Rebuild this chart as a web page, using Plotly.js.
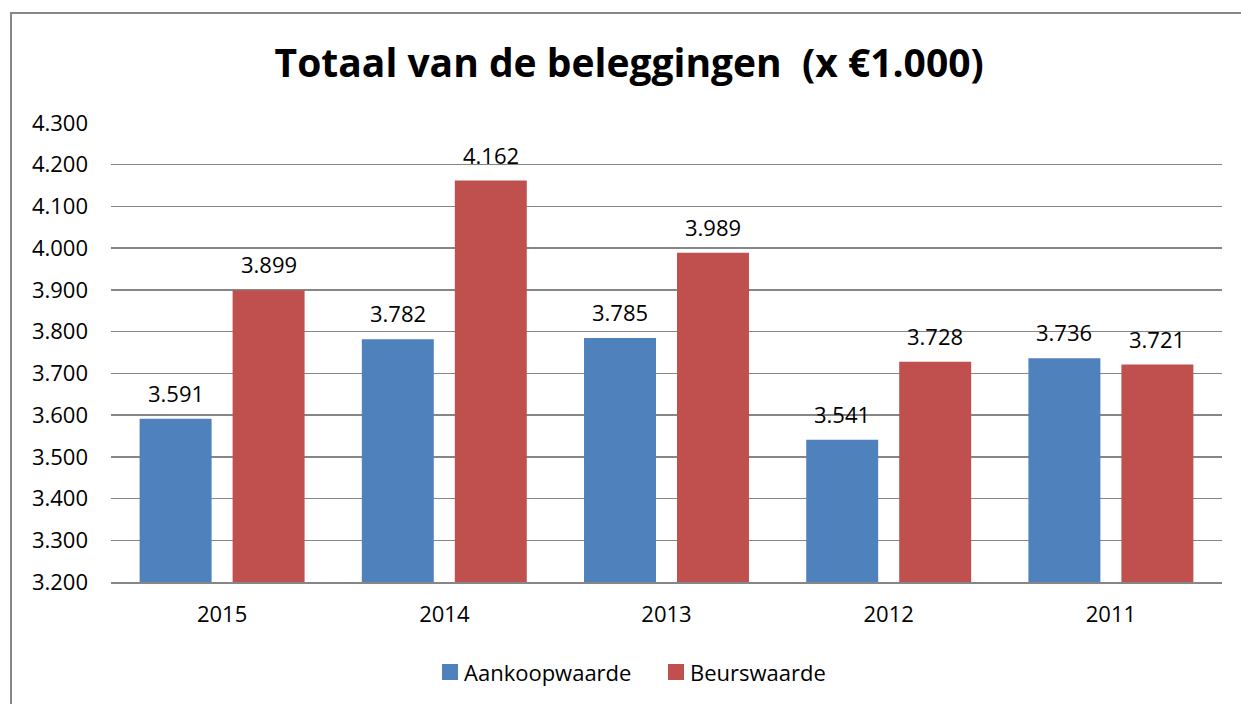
<!DOCTYPE html>
<html><head><meta charset="utf-8">
<script src="https://cdn.plot.ly/plotly-3.0.1.min.js"></script>
<style>html,body{margin:0;padding:0;background:#fff;}#c{width:1241px;height:704px;}</style>
</head><body><div id="c"></div>
<script>
const years = ['2015', '2014', '2013', '2012', '2011'];
const aankoopwaarde = [3591, 3782, 3785, 3541, 3736];
const beurswaarde = [3899, 4162, 3989, 3728, 3721];
const seriesNames = ['Aankoopwaarde', 'Beurswaarde'];
const seriesColors = ['#4F81BD', '#C0504D'];
const titleText = 'Totaal van de beleggingen  (x €1.000)';

const FONT = '"Open Sans", sans-serif';
const FS = 22;
function dutch(v){ const s=String(v); return s.length>3 ? s.slice(0,-3)+'.'+s.slice(-3) : s; }

const traces = [
  {type:'bar', name:seriesNames[0], x:years, y:aankoopwaarde, marker:{color:seriesColors[0]}},
  {type:'bar', name:seriesNames[1], x:years, y:beurswaarde, marker:{color:seriesColors[1]}}
];

const annotations = [];
[aankoopwaarde, beurswaarde].forEach((arr, si) => {
  arr.forEach((v, i) => {
    annotations.push({x:i, y:v, xref:'x', yref:'y', text:dutch(v), showarrow:false,
      yanchor:'bottom', yshift:9, xshift: si===0 ? -46.5 : 46.5,
      font:{family:FONT, size:FS, color:'#000'}});
  });
});

// custom legend (pixel -> paper)
const px2x = px => (px - 111) / 1111;
const py2y = py => (582 - py) / 459;
const legendSquares = [[442, 458], [668, 684]];
const shapes = [{type:'rect', xref:'paper', yref:'paper', x0:-0.09, x1:1.03, y0:-0.3, y1:1.2397,
    line:{color:'#868686', width:2}, fillcolor:'rgba(0,0,0,0)'}];
legendSquares.forEach((sq, k) => {
  shapes.push({type:'rect', xref:'paper', yref:'paper', x0:px2x(sq[0]), x1:px2x(sq[1]),
    y0:py2y(680), y1:py2y(664), line:{width:0}, fillcolor:seriesColors[k]});
  annotations.push({xref:'paper', yref:'paper', x:px2x(sq[1]+4), y:py2y(672), xanchor:'left', yanchor:'middle',
    text:seriesNames[k], showarrow:false, font:{family:FONT, size:FS, color:'#000'}});
});

const layout = {
  width:1241, height:704,
  margin:{l:111, r:19, t:123, b:122},
  paper_bgcolor:'#fff', plot_bgcolor:'#fff',
  separators:',.',
  font:{family:FONT, size:FS, color:'#000'},
  title:{text:'<b>'+titleText+'</b>', x:0.507, xanchor:'center', y:0.91, yanchor:'middle', yref:'container',
    font:{family:FONT, size:39, color:'#000'}},
  barmode:'group', bargap:0.163, bargroupgap:0.226,
  xaxis:{type:'category', range:[-0.5,4.5], showgrid:false, showline:true, linecolor:'#868686', linewidth:2,
    ticks:'', tickfont:{family:FONT, size:FS}, ticklabelstandoff:12},
  yaxis:{range:[3200,4300], dtick:100, tickformat:',d', showgrid:true, gridcolor:'#868686', gridwidth:1.5,
    showline:false, zeroline:false, ticks:'', tickfont:{family:FONT, size:FS}, ticklabelstandoff:22},
  showlegend:false,
  annotations:annotations,
  shapes:shapes
};
Plotly.newPlot('c', traces, layout, {displayModeBar:false, staticPlot:true});
</script></body></html>
